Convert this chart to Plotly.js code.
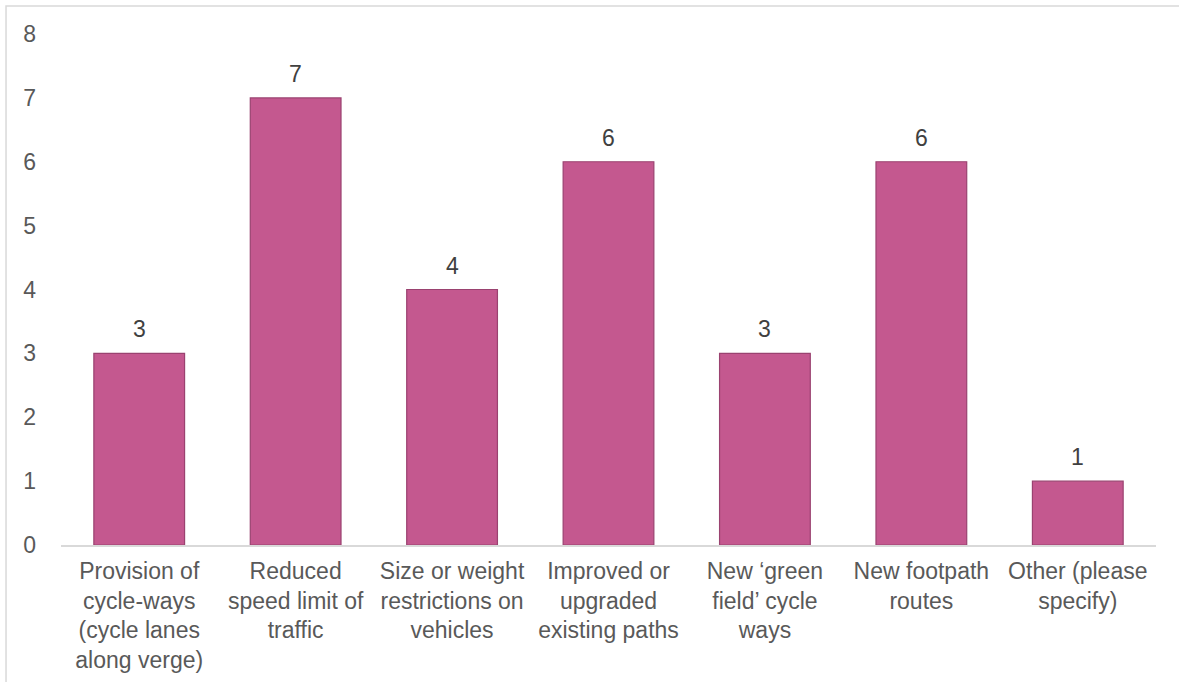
<!DOCTYPE html>
<html>
<head>
<meta charset="utf-8">
<script src="https://cdn.plot.ly/plotly-3.0.1.min.js"></script>
<style>html,body{margin:0;padding:0;background:#fff;}#chart{width:1179px;height:682px;}</style>
</head>
<body>
<div id="chart"></div>
<script>
const categories = [
  "Provision of<br>cycle-ways<br>(cycle lanes<br>along verge)",
  "Reduced<br>speed limit of<br>traffic",
  "Size or weight<br>restrictions on<br>vehicles",
  "Improved or<br>upgraded<br>existing paths",
  "New \u2018green<br>field\u2019 cycle<br>ways",
  "New footpath<br>routes",
  "Other (please<br>specify)"
];
const values = [3, 7, 4, 6, 3, 6, 1];
const yTicks = [0, 1, 2, 3, 4, 5, 6, 7, 8];

const trace = {
  type: 'bar',
  x: categories,
  y: values,
  marker: {color: '#c4588f', line: {color: '#9a4270', width: 1.2}},
  hoverinfo: 'none'
};

const valueLabels = categories.map((c, i) => ({
  x: c, y: values[i], xref: 'x', yref: 'y',
  text: String(values[i]), showarrow: false,
  yanchor: 'bottom', yshift: 9,
  font: {family: 'Liberation Sans, Arial, sans-serif', size: 23, color: '#404040'}
}));

const layout = {
  width: 1179, height: 682,
  margin: {l: 61, r: 23, t: 34, b: 137},
  paper_bgcolor: '#ffffff', plot_bgcolor: '#ffffff',
  showlegend: false,
  bargap: 0.42,
  font: {family: 'Liberation Sans, Arial, sans-serif', size: 23, color: '#595959'},
  xaxis: {
    showline: true, linecolor: '#d9d9d9', linewidth: 2,
    ticks: '', showgrid: false, zeroline: false,
    tickfont: {size: 23, color: '#595959'},
    ticklabelstandoff: 4
  },
  yaxis: {
    range: [0, 8], tickvals: yTicks, ticktext: yTicks.map(String),
    showgrid: false, zeroline: false, showline: false, ticks: '',
    tickfont: {size: 23, color: '#595959'},
    ticklabelstandoff: 24
  },
  annotations: valueLabels,
  shapes: [{
    type: 'rect', xref: 'paper', yref: 'paper',
    x0: -0.0502, x1: 1.2, y0: -0.5, y1: 1.0548,
    line: {color: '#d9d9d9', width: 1.5}, fillcolor: 'rgba(0,0,0,0)', layer: 'below'
  }]
};

Plotly.newPlot('chart', [trace], layout, {staticPlot: true, displayModeBar: false});
</script>
</body>
</html>
